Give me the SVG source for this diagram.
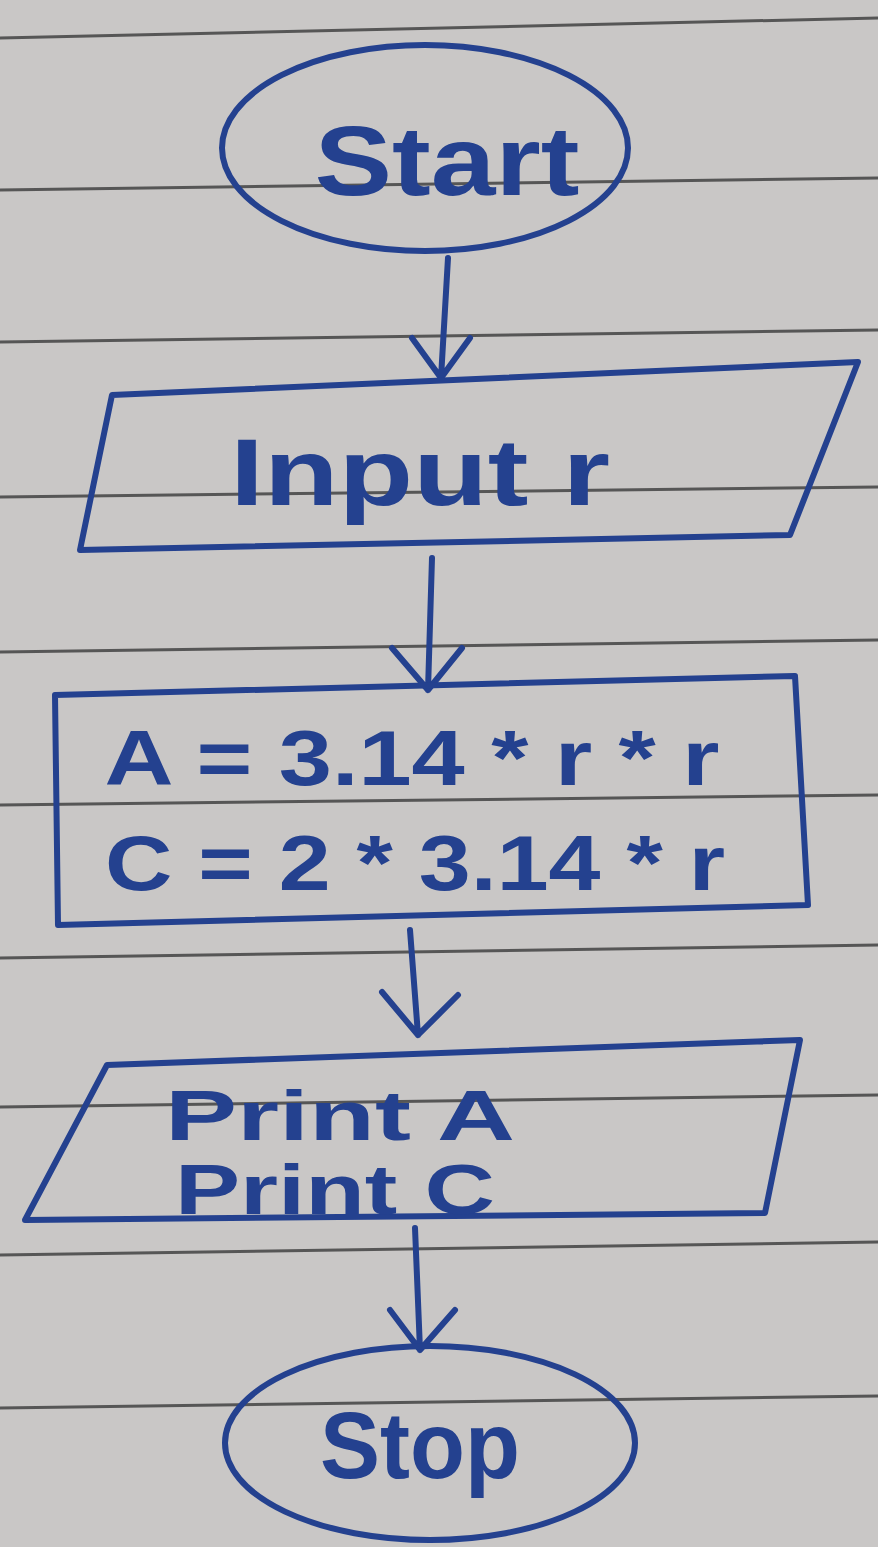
<svg xmlns="http://www.w3.org/2000/svg" width="878" height="1547" viewBox="0 0 878 1547">
<defs>
<style>
.paper{fill:#c9c7c6}
.rule{stroke:#3a3a3a;stroke-width:3;fill:none;opacity:0.8}
.shape{fill:none;stroke:#24418f;stroke-width:6;stroke-linejoin:round;stroke-linecap:round}
.conn{fill:none;stroke:#24418f;stroke-width:6;stroke-linecap:round;stroke-linejoin:round}
.lbl{font-family:"Liberation Sans","DejaVu Sans",sans-serif;font-weight:bold;fill:#24418f;text-anchor:middle}
</style>
</defs>
<rect class="paper" x="0" y="0" width="878" height="1547"/>
<g id="ruled-lines">
<path class="rule" d="M0 38 L878 18"/>
<path class="rule" d="M0 190 L878 178"/>
<path class="rule" d="M0 342 L878 330"/>
<path class="rule" d="M0 497 L878 487"/>
<path class="rule" d="M0 652 L878 640"/>
<path class="rule" d="M0 805 L878 795"/>
<path class="rule" d="M0 958 L878 945"/>
<path class="rule" d="M0 1107 L878 1095"/>
<path class="rule" d="M0 1255 L878 1242"/>
<path class="rule" d="M0 1408 L878 1396"/>
</g>
<g id="connectors">
<path class="conn" d="M448 258 L441 378 M412 338 L441 378 L470 338"/>
<path class="conn" d="M432 558 L428 690 M392 648 L428 690 L462 648"/>
<path class="conn" d="M410 930 L418 1035 M382 992 L418 1035 L458 995"/>
<path class="conn" d="M415 1228 L420 1350 M390 1310 L420 1350 L455 1310"/>
</g>
<g id="start">
<ellipse class="shape" cx="425" cy="148" rx="203" ry="103"/>
<text class="lbl" x="447" y="195" font-size="98" textLength="265" lengthAdjust="spacingAndGlyphs">Start</text>
</g>
<g id="input">
<path class="shape" d="M112 395 L858 362 L790 535 L80 550 Z"/>
<text class="lbl" x="420" y="505" font-size="95" textLength="380" lengthAdjust="spacingAndGlyphs">Input r</text>
</g>
<g id="process">
<path class="shape" d="M55 695 L795 676 L808 905 L58 925 Z"/>
<text class="lbl" x="412" y="785" font-size="78" textLength="615" lengthAdjust="spacingAndGlyphs">A = 3.14 * r * r</text>
<text class="lbl" x="415" y="890" font-size="78" textLength="620" lengthAdjust="spacingAndGlyphs">C = 2 * 3.14 * r</text>
</g>
<g id="output">
<path class="shape" d="M107 1065 L800 1040 L765 1213 L25 1220 Z"/>
<text class="lbl" x="340" y="1140" font-size="70" textLength="350" lengthAdjust="spacingAndGlyphs">Print A</text>
<text class="lbl" x="335" y="1214" font-size="70" textLength="320" lengthAdjust="spacingAndGlyphs">Print C</text>
</g>
<g id="stop">
<ellipse class="shape" cx="430" cy="1443" rx="205" ry="97"/>
<text class="lbl" x="420" y="1478" font-size="95" textLength="200" lengthAdjust="spacingAndGlyphs">Stop</text>
</g>
</svg>
